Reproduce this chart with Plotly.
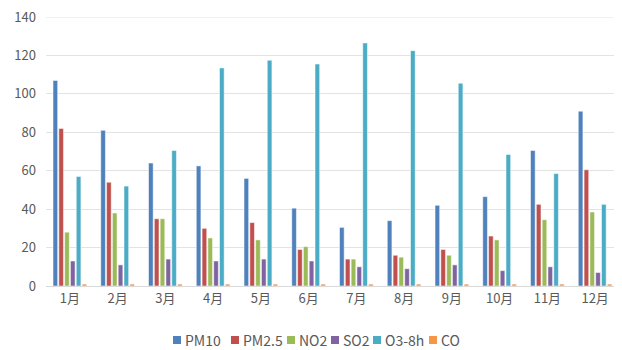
import plotly.graph_objects as go

months = ["1月", "2月", "3月", "4月", "5月", "6月", "7月", "8月", "9月", "10月", "11月", "12月"]
pm10 = [107, 81, 64, 62.5, 56, 40.5, 30.5, 34, 42, 46.5, 70.5, 91]
pm25 = [82, 54, 35, 30, 33, 19, 14, 16, 19, 26, 42.5, 60.5]
no2 = [28, 38, 35, 25, 24, 20.5, 14, 15, 16, 24, 34.5, 38.5]
so2 = [13, 11, 14, 13, 14, 13, 10, 9, 11, 8, 10, 7]
o3 = [57, 52, 70.5, 113.5, 117.5, 115.5, 126.5, 122.5, 105.5, 68.5, 58.5, 42.5]
co = [1.0, 1.0, 1.0, 1.0, 1.0, 1.0, 1.0, 1.0, 1.0, 1.0, 1.0, 1.0]
y_ticks = [0, 20, 40, 60, 80, 100, 120, 140]

series_names = ["PM10", "PM2.5", "NO2", "SO2", "O3-8h", "CO"]
series_values = [pm10, pm25, no2, so2, o3, co]
series_colors = ["#4F81BD", "#C0504D", "#9BBB59", "#8064A2", "#4BACC6", "#F79646"]

# layout constants (pixels); the page body adds an 8px offset
OFF = 8
W, H = 622 - OFF, 350 - OFF
L, R, T, B = 46 - OFF, 3, 17 - OFF, 64
PW, PH = W - L - R, H - T - B
legend_square_px = [173, 231, 287, 331, 373, 429]  # left edge of each legend square (page px)
legend_y_px = 340
GRID = "#E3E3E3"


def px_x(px):
    return (px - OFF - L) / PW


def px_y(py):
    return (H - B - (py - OFF)) / PH


fig = go.Figure()
for name, vals, color in zip(series_names, series_values, series_colors):
    fig.add_trace(go.Bar(
        x=months, y=vals, name=name,
        marker=dict(color=color, line=dict(color="white", width=0.5)),
    ))

shapes = [dict(type="line", xref="paper", yref="y", x0=0, x1=1,
               y0=y_ticks[-1], y1=y_ticks[-1], line=dict(color=GRID, width=1), layer="below")]
annotations = []
for name, color, sx in zip(series_names, series_colors, legend_square_px):
    shapes.append(dict(type="rect", xref="paper", yref="paper",
                       x0=px_x(sx), x1=px_x(sx + 8),
                       y0=px_y(legend_y_px + 4), y1=px_y(legend_y_px - 4),
                       fillcolor=color, line=dict(width=0)))
    annotations.append(dict(xref="paper", yref="paper", x=px_x(sx + 10), y=px_y(legend_y_px),
                            xanchor="left", yanchor="middle", text=name, showarrow=False,
                            font=dict(size=14, color="#595959")))

fig.update_layout(
    width=W, height=H,
    margin=dict(l=L, r=R, t=T, b=B, autoexpand=False),
    paper_bgcolor="white", plot_bgcolor="white",
    barmode="group", bargap=0.27, bargroupgap=0.2,
    font=dict(family="Noto Sans CJK SC, Noto Sans, sans-serif", size=13, color="#595959"),
    showlegend=False,
    shapes=shapes,
    annotations=annotations,
    xaxis=dict(showgrid=False, showline=True, linecolor="#D9D9D9", linewidth=1,
               ticks="", tickfont=dict(size=13, color="#595959")),
    yaxis=dict(range=[0, 140], tickmode="array", tickvals=y_ticks,
               showgrid=True, gridcolor=GRID, gridwidth=1,
               zeroline=False, showline=False, ticks="", ticklabelstandoff=9,
               ticklabeloverflow="allow",
               tickfont=dict(size=13, color="#595959")),
)

fig.write_html("out.html")
